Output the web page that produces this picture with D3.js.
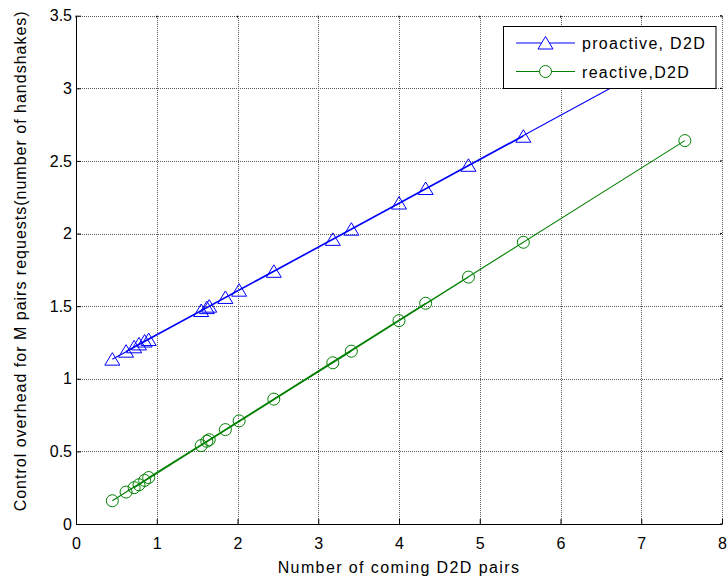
<!DOCTYPE html>
<html>
<head>
<meta charset="utf-8">
<script src="https://cdn.jsdelivr.net/npm/d3@7"></script>
<style>
  html, body { margin: 0; padding: 0; background: #fff; }
  svg { display: block; font-family: "Liberation Sans", Arial, sans-serif; }
</style>
</head>
<body>
<svg id="chart" width="728" height="580"></svg>
<script>
// Number of coming D2D pairs, in the order the runs were recorded
const pairs = [0.85, 3.41, 0.62, 2.45, 5.54, 0.45, 4.33, 1.55, 4.86, 0.72, 2.02, 1.65, 3.18, 0.90, 4.00, 1.62, 0.78, 1.85, 7.54];
// Control overhead (number of handshakes) for each run
const proactive = [1.26, 2.03, 1.19, 1.74, 2.67, 1.135, 2.31, 1.47, 2.47, 1.22, 1.61, 1.50, 1.96, 1.27, 2.21, 1.49, 1.24, 1.56, 3.28];
const reactive  = [0.30, 1.19, 0.22, 0.86, 1.94, 0.16, 1.52, 0.54, 1.70, 0.25, 0.71, 0.58, 1.11, 0.32, 1.40, 0.57, 0.27, 0.65, 2.64];

const xTicks = [0, 1, 2, 3, 4, 5, 6, 7, 8];
const yTicks = [0, 0.5, 1, 1.5, 2, 2.5, 3, 3.5];
const seriesNames = ["proactive, D2D", "reactive,D2D"];

const svg = d3.select("#chart");
const box = { left: 76, right: 722, top: 15.7, bottom: 524 };

const x = d3.scaleLinear().domain([0, 8]).range([box.left, box.right]);
const y = d3.scaleLinear().domain([0, 3.5]).range([box.bottom, box.top]);

// dotted grid
const grid = svg.append("g").attr("stroke", "#5a5a5a").attr("stroke-width", 1)
  .attr("stroke-dasharray", "1,1").attr("shape-rendering", "crispEdges");
grid.selectAll("line.v").data(xTicks.slice(1)).join("line").attr("class", "v")
  .attr("x1", d => Math.round(x(d)) + 0.5).attr("x2", d => Math.round(x(d)) + 0.5)
  .attr("y1", box.top).attr("y2", box.bottom);
grid.selectAll("line.h").data(yTicks.slice(1)).join("line").attr("class", "h")
  .attr("y1", d => Math.round(y(d)) + 0.5).attr("y2", d => Math.round(y(d)) + 0.5)
  .attr("x1", box.left).attr("x2", box.right);

// axes with inward ticks
const fmt = d => String(d);
const xAxis = svg.append("g").attr("transform", `translate(0,${box.bottom})`)
  .call(d3.axisBottom(x).tickValues(xTicks).tickFormat(fmt).tickSizeInner(-5).tickSizeOuter(0).tickPadding(14));
const yAxis = svg.append("g").attr("transform", `translate(${box.left},0)`)
  .call(d3.axisLeft(y).tickValues(yTicks).tickFormat(fmt).tickSizeInner(-5).tickSizeOuter(0).tickPadding(4));
[xAxis, yAxis].forEach(a => {
  a.selectAll("text").attr("font-size", 16).attr("fill", "#000").attr("font-family", "Liberation Sans, Arial, sans-serif");
  a.selectAll("line, path").attr("stroke", "#000");
});

// short ticks along the top and right edges
svg.append("g").selectAll("line").data(xTicks).join("line")
  .attr("x1", d => x(d)).attr("x2", d => x(d)).attr("y1", box.top).attr("y2", box.top + 2)
  .attr("stroke", "#000");
svg.append("g").selectAll("line").data(yTicks).join("line")
  .attr("x1", box.right - 2).attr("x2", box.right).attr("y1", d => y(d)).attr("y2", d => y(d))
  .attr("stroke", "#000");

// axis titles
svg.append("text").attr("x", (box.left + box.right) / 2).attr("y", 573)
  .attr("text-anchor", "middle").attr("font-size", 16).attr("letter-spacing", 1.4)
  .text("Number of coming D2D pairs");
svg.append("text").attr("transform", `translate(26,${(box.top + box.bottom) / 2 - 9}) rotate(-90)`)
  .attr("text-anchor", "middle").attr("font-size", 16).attr("letter-spacing", 1.0)
  .text("Control overhead for M pairs requests(number of handshakes)");

// data series
const triangle = "M0,-6.5L7.5,6L-7.5,6Z";
const series = [
  { name: seriesNames[0], values: proactive, color: "#0000ff", marker: "tri" },
  { name: seriesNames[1], values: reactive, color: "#008000", marker: "circ" }
];
const line = d3.line().x(d => x(d[0])).y(d => y(d[1]));

series.forEach(s => {
  const pts = pairs.map((p, i) => [p, s.values[i]]);
  const g = svg.append("g");
  g.append("path").attr("d", line(pts)).attr("fill", "none")
    .attr("stroke", s.color).attr("stroke-width", 1.1);
  const m = g.selectAll("g.m").data(pts).join("g").attr("class", "m")
    .attr("transform", d => `translate(${x(d[0])},${y(d[1])})`);
  if (s.marker === "tri") {
    m.append("path").attr("d", triangle).attr("fill", "none").attr("stroke", s.color).attr("stroke-width", 1);
  } else {
    m.append("circle").attr("r", 6).attr("fill", "none").attr("stroke", s.color).attr("stroke-width", 1);
  }
});

// legend
const lg = svg.append("g");
lg.append("rect").attr("x", 503.5).attr("y", 26.5).attr("width", 212.5).attr("height", 62)
  .attr("fill", "#fff").attr("stroke", "#000").attr("stroke-width", 1);
series.forEach((s, i) => {
  const cy = 43 + i * 28.5;
  lg.append("line").attr("x1", 516).attr("x2", 575).attr("y1", cy).attr("y2", cy)
    .attr("stroke", s.color).attr("stroke-width", 1);
  if (s.marker === "tri") {
    lg.append("path").attr("d", triangle).attr("transform", `translate(545.5,${cy})`)
      .attr("fill", "#fff").attr("stroke", s.color);
  } else {
    lg.append("circle").attr("cx", 545.5).attr("cy", cy).attr("r", 6)
      .attr("fill", "#fff").attr("stroke", s.color);
  }
  lg.append("text").attr("x", 582).attr("y", cy + 6).attr("font-size", 16)
    .attr("letter-spacing", 1.3).text(s.name);
});
</script>
</body>
</html>
